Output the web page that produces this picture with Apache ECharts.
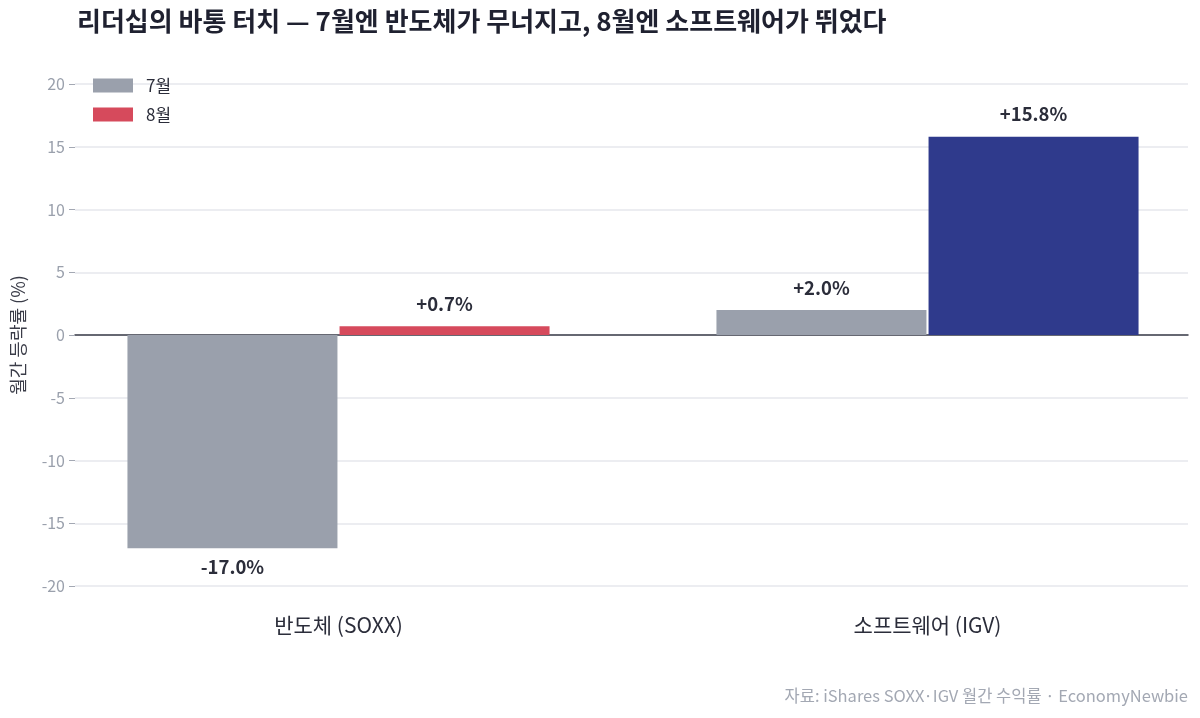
<!DOCTYPE html>
<html>
<head>
<meta charset="utf-8">
<script src="https://cdn.jsdelivr.net/npm/echarts@6/dist/echarts.min.js"></script>
<style>
  html, body { margin: 0; padding: 0; background: #fff; }
  #chart { width: 1200px; height: 718px; }
</style>
</head>
<body>
<div id="chart"></div>
<script>
const categories = ['반도체 (SOXX)', '소프트웨어 (IGV)']
const julValues = [-17.0, 2.0]
const augValues = [0.7, 15.8]
const augColors = ['#d64a5c', '#2f3a8c'] // 8월 막대는 종목별 색
const yTicks = { min: -20, max: 20, interval: 5 }

const font = '"Noto Sans CJK KR", "Noto Sans", sans-serif'
const chart = echarts.init(document.getElementById('chart'))

const fmt = v => (v > 0 ? '+' : '') + v.toFixed(1) + '%'

const labelStyle = {
  show: true,
  fontFamily: font,
  fontSize: 18.5,
  fontWeight: 'bold',
  color: '#2b2d3a',
  distance: 13,
  formatter: p => fmt(p.value)
}

const barLabel = v => ({ position: v < 0 ? 'bottom' : 'top', distance: v < 0 ? 9 : 13 })

const option = {
  animation: false,
  title: [
    {
      text: '리더십의 바통 터치 — 7월엔 반도체가 무너지고, 8월엔 소프트웨어가 뛰었다',
      left: 72, top: 3,
      textStyle: { fontFamily: font, fontSize: 26, fontWeight: 'bold', color: '#1f2130' }
    },
    {
      text: '자료: iShares SOXX·IGV 월간 수익률 · EconomyNewbie',
      right: 7, top: 682,
      textStyle: { fontFamily: font, fontSize: 16.5, fontWeight: 'normal', color: '#a3a8b3' }
    }
  ],
  legend: {
    orient: 'vertical',
    left: 88, top: 72,
    icon: 'rect',
    itemWidth: 40, itemHeight: 14, itemGap: 12,
    textStyle: { fontFamily: font, fontSize: 17, color: '#2b2d3a', padding: [0, 0, 0, 8] },
    data: [
      { name: '7월', itemStyle: { color: '#9aa0ac' } },
      { name: '8월', itemStyle: { color: '#d64a5c' } }
    ]
  },
  grid: [
    // 눈금/격자용
    { left: 75, right: 12, top: 84, bottom: 132, outerBoundsMode: 'none' },
    // 막대용 (카테고리 폭을 넓게 잡아 막대 위치를 맞춤)
    { left: 44, right: -22, top: 84, bottom: 132, outerBoundsMode: 'none' }
  ],
  xAxis: [
    {
      gridIndex: 0, type: 'value', min: 0, max: 1,
      axisLine: { show: true, onZero: true, lineStyle: { color: '#3a3c48', width: 1.5 } },
      axisTick: { show: false }, axisLabel: { show: false }, splitLine: { show: false }
    },
    {
      gridIndex: 1, type: 'category', data: categories,
      position: 'bottom',
      axisLine: { show: false, onZero: false }, axisTick: { show: false },
      axisLabel: { fontFamily: font, fontSize: 21, color: '#2b2d3a', margin: 29 }
    }
  ],
  yAxis: [
    {
      gridIndex: 0, type: 'value',
      min: yTicks.min, max: yTicks.max, interval: yTicks.interval,
      name: '월간 등락률 (%)', nameLocation: 'middle', nameGap: 48, nameRotate: 90,
      nameTextStyle: { fontFamily: font, fontSize: 18, color: '#3a3c48' },
      axisLine: { show: false },
      axisTick: { show: true, length: 6, lineStyle: { color: '#a3a8b3' } },
      axisLabel: { fontFamily: font, fontSize: 16, color: '#9aa0ac', margin: 10 },
      splitLine: { lineStyle: { color: '#e6e7ec', width: 1.5 } }
    },
    {
      gridIndex: 1, type: 'value',
      min: yTicks.min, max: yTicks.max, interval: yTicks.interval,
      axisLine: { show: false }, axisTick: { show: false },
      axisLabel: { show: false }, splitLine: { show: false }
    }
  ],
  series: [
    {
      name: '7월', type: 'bar', xAxisIndex: 1, yAxisIndex: 1,
      barWidth: 210, barGap: '1%',
      itemStyle: { color: '#9aa0ac' },
      label: { ...labelStyle, position: 'top' },
      data: julValues.map(v => ({ value: v, label: barLabel(v) }))
    },
    {
      name: '8월', type: 'bar', xAxisIndex: 1, yAxisIndex: 1,
      barWidth: 210, barGap: '1%',
      itemStyle: { color: '#d64a5c' },
      label: { ...labelStyle, position: 'top' },
      data: augValues.map((v, i) => ({
        value: v,
        itemStyle: { color: augColors[i] },
        label: barLabel(v)
      }))
    }
  ]
}

chart.setOption(option)
</script>
</body>
</html>
